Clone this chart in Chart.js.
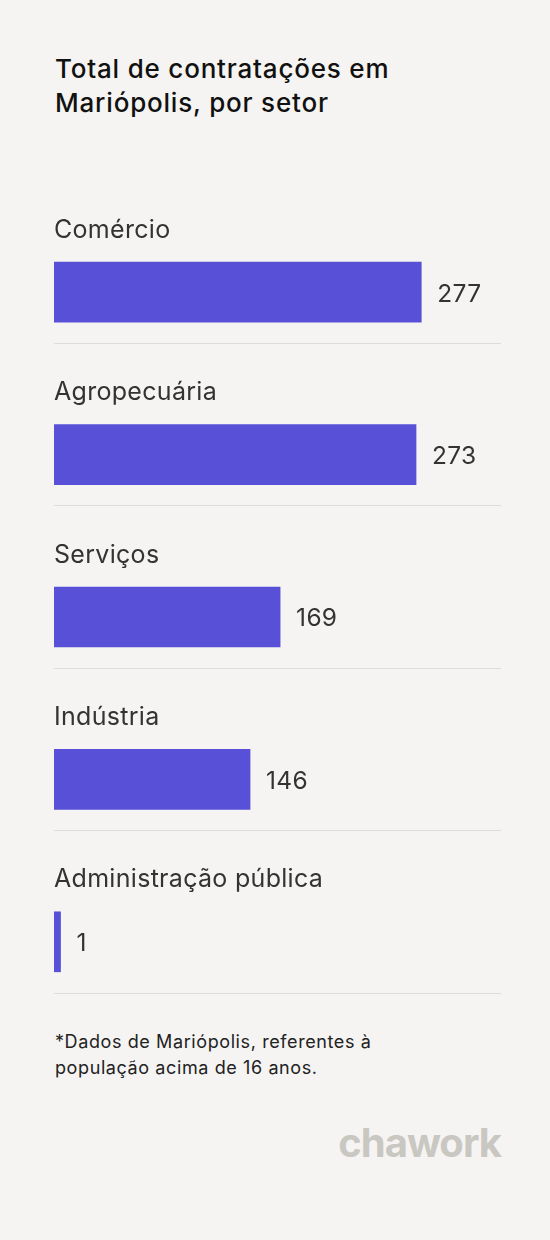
<!DOCTYPE html>
<html><head><meta charset="utf-8">
<script src="https://cdn.jsdelivr.net/npm/chart.js@4/dist/chart.umd.min.js"></script>
<style>
html,body{margin:0;padding:0;background:#f5f4f2;width:550px;height:1240px;overflow:hidden;font-family:Inter,"Noto Sans",sans-serif}
#title{position:absolute;left:55px;top:52px;font-size:26px;line-height:34px;color:#111;font-weight:500;letter-spacing:0.8px}
#wrap{position:absolute;left:0;top:181px;width:550px;height:816px}
#note{position:absolute;left:55px;top:1029px;font-size:18px;line-height:26px;color:#222;letter-spacing:0.6px}
#logo{position:absolute;right:49px;top:1118px;font-size:40px;font-weight:700;color:#c9c7c1;letter-spacing:-1px}
</style></head><body>
<div id="title">Total de contratações em<br>Mariópolis, por setor</div>
<div id="wrap"><canvas id="c"></canvas></div>
<div id="note">*Dados de Mariópolis, referentes à<br>população acima de 16 anos.</div>
<div id="logo">chawork</div>
<script>
const categories=["Comércio","Agropecuária","Serviços","Indústria","Administração pública"];
const values=[277,273,169,146,1];
const labelPlugin={id:'lbl',afterDatasetsDraw(ch){
 const ctx=ch.ctx, y=ch.scales.y;
 const meta=ch.getDatasetMeta(1);
 ctx.save();
 ctx.textBaseline='middle';ctx.fillStyle='#333';
 categories.forEach((c,i)=>{
  const top=y.getPixelForValue(i)-81;
  ctx.font='25px Inter, "Noto Sans", sans-serif';
  ctx.letterSpacing='0.3px';
  ctx.textAlign='left';ctx.fillText(c,54,top+49);
  ctx.font='24.5px Inter, "Noto Sans", sans-serif';
  const b=meta.data[i];
  ctx.fillText(String(values[i]),b.x+16,b.y+2);
 });
 ctx.restore();
}};
new Chart(document.getElementById('c'),{type:'bar',
 data:{labels:categories,datasets:[
  {data:categories.map(()=>null),backgroundColor:'transparent'},
  {data:values,base:-4,backgroundColor:'#5850d6',barThickness:60}]},
 options:{indexAxis:'y',responsive:true,maintainAspectRatio:false,animation:false,
  layout:{padding:{left:54,right:49,top:0,bottom:4}},
  datasets:{bar:{categoryPercentage:0.716,barPercentage:1}},
  plugins:{legend:{display:false},tooltip:{enabled:false}},
  scales:{
   x:{display:false,min:-4,max:338},
   y:{display:true,border:{display:false},ticks:{display:false},afterFit(s){s.width=0;},
      grid:{offset:true,drawTicks:false,lineWidth:1,color:(c)=>c.index===0?'transparent':'#dddcd8'}}
  }},
 plugins:[labelPlugin]});
</script>
</body></html>
